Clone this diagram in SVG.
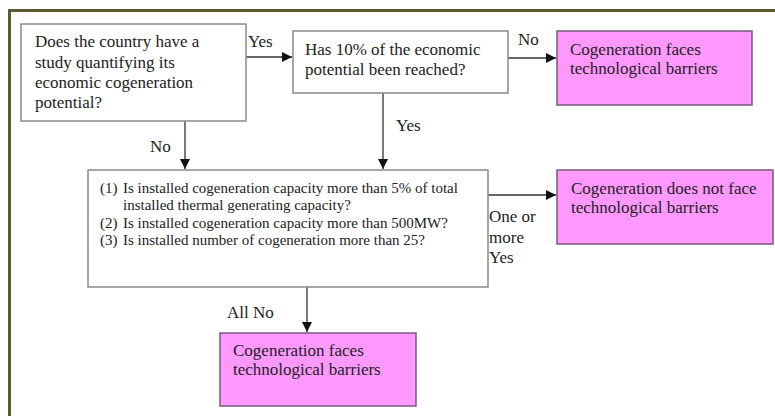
<svg xmlns="http://www.w3.org/2000/svg" width="775" height="416" viewBox="0 0 775 416">
<style>
.q{fill:#fff;stroke:#8a8a8a;stroke-width:1.5}
.p{fill:#ff99ff;stroke:#7a5a7a;stroke-width:1.5}
.t{font-family:"Liberation Serif",serif;font-size:17px;fill:#222}
.s{font-family:"Liberation Serif",serif;font-size:15px;fill:#222}
.c{stroke:#333;stroke-width:1.3;fill:none}
</style>
<defs>
<marker id="ah" viewBox="0 0 10 10" refX="10" refY="5" markerWidth="11" markerHeight="10" markerUnits="userSpaceOnUse" orient="auto">
<path d="M0,0 L10,5 L0,10 Z" fill="#111"/>
</marker>
</defs>
<rect x="0" y="0" width="775" height="416" fill="#fff"/>
<path d="M9.5,420 V10.5 H780" fill="none" stroke="#5b5b35" stroke-width="3"/>
<g id="connectors">
<line class="c" x1="246" y1="57" x2="292" y2="57" marker-end="url(#ah)"/>
<line class="c" x1="508" y1="58" x2="556" y2="58" marker-end="url(#ah)"/>
<line class="c" x1="383" y1="93" x2="383" y2="169" marker-end="url(#ah)"/>
<line class="c" x1="185" y1="121" x2="185" y2="169" marker-end="url(#ah)"/>
<line class="c" x1="488" y1="195" x2="556" y2="195" marker-end="url(#ah)"/>
<line class="c" x1="307" y1="287" x2="307" y2="332" marker-end="url(#ah)"/>
<text class="t" x="248" y="47">Yes</text>
<text class="t" x="518" y="45">No</text>
<text class="t" x="396" y="131">Yes</text>
<text class="t" x="150" y="152">No</text>
<text class="t" x="489" y="222">One or</text>
<text class="t" x="489" y="243">more</text>
<text class="t" x="489" y="263">Yes</text>
<text class="t" x="227" y="318">All No</text>
</g>
<g id="q1">
<rect class="q" x="21" y="24" width="225" height="97"/>
<text class="t" x="35" y="47">Does the country have a</text>
<text class="t" x="35" y="68">study quantifying its</text>
<text class="t" x="35" y="88">economic cogeneration</text>
<text class="t" x="35" y="108">potential?</text>
</g>
<g id="q2">
<rect class="q" x="293" y="31" width="215" height="62"/>
<text class="t" x="305" y="55">Has 10% of the economic</text>
<text class="t" x="305" y="75">potential been reached?</text>
</g>
<g id="r1">
<rect class="p" x="557" y="31" width="195" height="74"/>
<text class="t" x="570" y="55">Cogeneration faces</text>
<text class="t" x="570" y="74">technological barriers</text>
</g>
<g id="q3">
<rect class="q" x="88" y="170" width="400" height="117"/>
<text class="s" x="100" y="193">(1)</text>
<text class="s" x="123" y="193">Is installed cogeneration capacity more than 5% of total</text>
<text class="s" x="123" y="210">installed thermal generating capacity?</text>
<text class="s" x="100" y="228">(2)</text>
<text class="s" x="123" y="228">Is installed cogeneration capacity more than 500MW?</text>
<text class="s" x="100" y="245">(3)</text>
<text class="s" x="123" y="245">Is installed number of cogeneration more than 25?</text>
</g>
<g id="r2">
<rect class="p" x="557" y="170" width="216" height="74"/>
<text class="t" x="571" y="194">Cogeneration does not face</text>
<text class="t" x="571" y="213">technological barriers</text>
</g>
<g id="r3">
<rect class="p" x="220" y="333" width="196" height="73"/>
<text class="t" x="233" y="356">Cogeneration faces</text>
<text class="t" x="233" y="375">technological barriers</text>
</g>
</svg>
